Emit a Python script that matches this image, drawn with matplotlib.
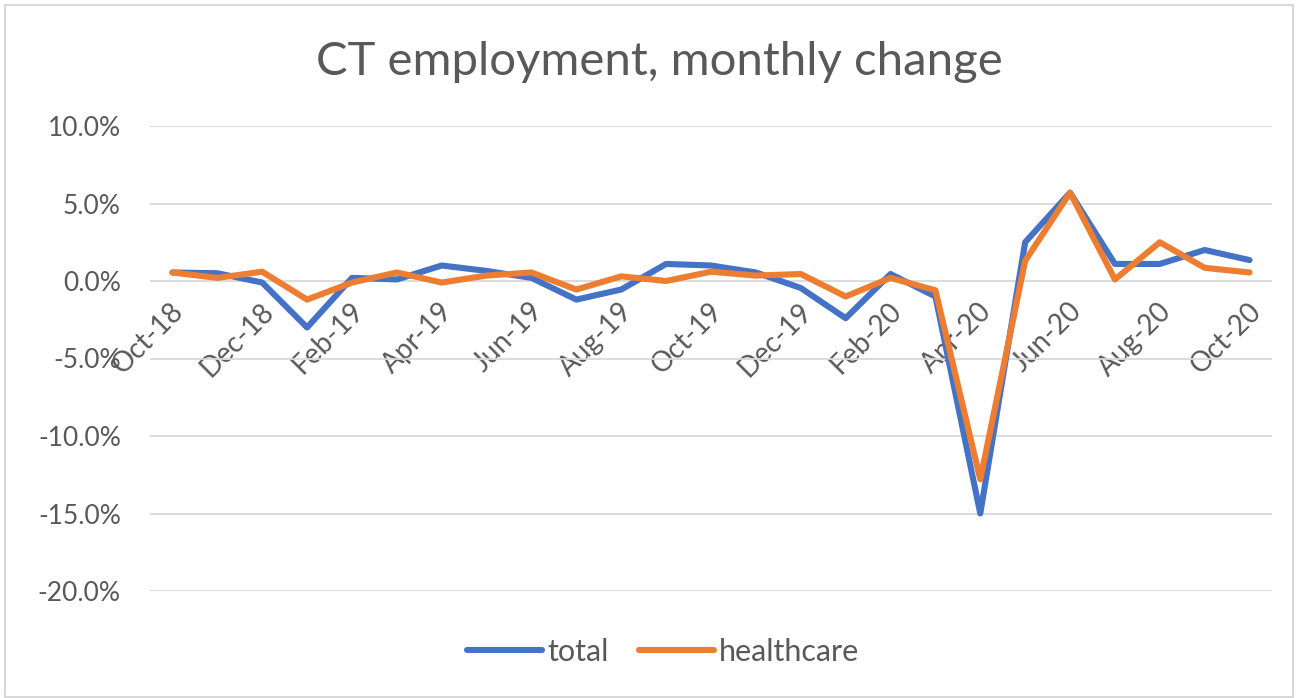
import matplotlib
matplotlib.use("Agg")
import matplotlib.pyplot as plt
import matplotlib.transforms as mtransforms
from matplotlib.ticker import FuncFormatter, FixedLocator

months = ["Oct-18", "Nov-18", "Dec-18", "Jan-19", "Feb-19", "Mar-19", "Apr-19",
          "May-19", "Jun-19", "Jul-19", "Aug-19", "Sep-19", "Oct-19", "Nov-19",
          "Dec-19", "Jan-20", "Feb-20", "Mar-20", "Apr-20", "May-20", "Jun-20",
          "Jul-20", "Aug-20", "Sep-20", "Oct-20"]
total = [0.55, 0.5, -0.1, -3.0, 0.2, 0.1, 1.0, 0.65, 0.2, -1.2, -0.55, 1.1, 1.0,
         0.55, -0.45, -2.4, 0.45, -1.0, -15.0, 2.5, 5.7, 1.1, 1.1, 2.0, 1.35]
healthcare = [0.55, 0.2, 0.6, -1.2, -0.1, 0.55, -0.1, 0.35, 0.55, -0.55, 0.3, 0.0,
              0.6, 0.35, 0.45, -1.0, 0.2, -0.6, -12.8, 1.3, 5.7, 0.1, 2.5, 0.85, 0.55]
y_ticks = [-20, -15, -10, -5, 0, 5, 10]
title = "CT employment, monthly change"

TEXT = "#595959"
FONT = ["Lato", "DejaVu Sans"]
plt.rcParams["font.family"] = FONT

fig = plt.figure(figsize=(12.97, 6.98), dpi=100)
ax = fig.add_axes([150 / 1297, 1 - 591 / 698, (1272 - 150) / 1297, (591 - 126) / 698])

x = list(range(len(months)))
ax.plot(x, total, color="#4472C4", lw=4.4, solid_joinstyle="round",
        solid_capstyle="round", label="total", zorder=3)
ax.plot(x, healthcare, color="#ED7D31", lw=4.4, solid_joinstyle="round",
        solid_capstyle="round", label="healthcare", zorder=4)

ax.set_xlim(-0.5, len(months) - 0.5)
ax.set_ylim(-20, 10)
ax.yaxis.set_major_locator(FixedLocator(y_ticks))
ax.yaxis.set_major_formatter(FuncFormatter(lambda v, p: f"{v:.1f}%"))
ax.grid(axis="y", color="#D9D9D9", lw=1.3)
ax.set_axisbelow(True)
for s in ax.spines.values():
    s.set_visible(False)
ax.spines["bottom"].set_position(("data", 0))

ax.set_xticks(x[::2])
ax.set_xticklabels(months[::2], rotation=45, ha="right", va="top",
                   rotation_mode="anchor")
ax.tick_params(axis="x", length=0, pad=2, labelsize=20, labelcolor=TEXT)
ax.tick_params(axis="y", length=0, pad=21, labelsize=19, labelcolor=TEXT)
offset = mtransforms.ScaledTranslation(-2 / 100, -14 / 100, fig.dpi_scale_trans)
for lab in ax.get_xticklabels():
    lab.set_transform(lab.get_transform() + offset)

fig.text(659 / 1297, 1 - 62 / 698, title, ha="center", va="center",
         fontsize=34, color=TEXT)

fig.legend(loc="center", bbox_to_anchor=(663 / 1297, 1 - 652 / 698), ncol=2,
           frameon=False, fontsize=22, handlelength=2.45, handletextpad=0.16,
           columnspacing=1.0, labelcolor=TEXT)

border = plt.Rectangle((5 / 1297, 1 / 698), 1288 / 1297, 692 / 698,
                       transform=fig.transFigure, fill=False,
                       edgecolor="#D9D9D9", lw=1.5)
fig.patches.append(border)

fig.savefig("out.png", dpi=100)
